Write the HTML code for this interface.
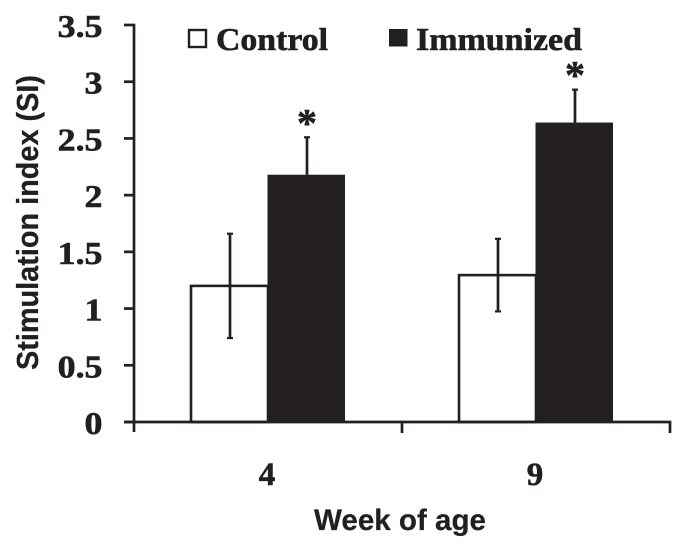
<!DOCTYPE html>
<html lang="en">
<head>
<meta charset="utf-8">
<title>Stimulation index by week of age</title>
<style>
html,body{margin:0;padding:0;background:#fff;width:692px;height:551px;overflow:hidden}
svg{display:block;filter:blur(0.35px)}
.serif{font-family:"Liberation Serif",serif;font-weight:bold;fill:#231f20;stroke:#231f20;stroke-width:0.6px}
.sans{font-family:"Liberation Sans",sans-serif;font-weight:bold;fill:#231f20;stroke:#231f20;stroke-width:0.25px}
</style>
</head>
<body>
<svg id="chart" width="692" height="551" viewBox="0 0 692 551" xmlns="http://www.w3.org/2000/svg">
  <text class="sans" x="400" y="530" font-size="29.5" text-anchor="middle" textLength="172" lengthAdjust="spacingAndGlyphs">Week of age</text>
  <text class="sans" transform="translate(38,222.5) rotate(-90)" font-size="30.5" text-anchor="middle" textLength="295" lengthAdjust="spacingAndGlyphs">Stimulation index (SI)</text>
  <rect x="189" y="30" width="17" height="17" fill="#fff" stroke="#231f20" stroke-width="2.4"/>
  <text class="serif" x="216" y="50" font-size="32" textLength="112" lengthAdjust="spacingAndGlyphs">Control</text>
  <rect x="389" y="29" width="18.5" height="17.5" fill="#231f20"/>
  <text class="serif" x="416" y="50" font-size="32" textLength="166" lengthAdjust="spacingAndGlyphs">Immunized</text>
</svg>
<script>
const categories = ['4', '9'];
const controlValues = [1.2, 1.295];
const immunizedValues = [2.18, 2.64];
const controlErrors = [0.46, 0.32];
const immunizedErrors = [0.33, 0.29];
const significant = ['*', '*'];
const yTicks = [0, 0.5, 1, 1.5, 2, 2.5, 3, 3.5];
const yTickLabels = ['0', '0.5', '1', '1.5', '2', '2.5', '3', '3.5'];

const svg = document.getElementById('chart');
const NS = 'http://www.w3.org/2000/svg';
const INK = '#231f20';
const plotLeft = 134, plotRight = 670, plotBottom = 422, plotTop = 25;
const yMax = 3.5, barWidth = 77, lineW = 2.7;
function yScale(v) { return plotBottom - (v / yMax) * (plotBottom - plotTop); }
function bandWidth() { return (plotRight - plotLeft) / categories.length; }
function bandCenter(i) { return plotLeft + bandWidth() * (i + 0.5); }
function make(tag, attrs) {
  const el = document.createElementNS(NS, tag);
  for (const k in attrs) el.setAttribute(k, attrs[k]);
  svg.appendChild(el);
  return el;
}
function line(x1, y1, x2, y2, w) {
  return make('line', { x1: x1, y1: y1, x2: x2, y2: y2, stroke: INK, 'stroke-width': w });
}
function errorBar(cx, value, err, lowerVisible, prefix) {
  const top = yScale(value + err);
  const bottom = lowerVisible ? yScale(value - err) : yScale(value);
  const stem = line(cx, top, cx, bottom, lineW);
  
  
  const capTop = line(cx - 3, top, cx + 3, top, 2.2);
  
  
  if (lowerVisible) {
    const capBottom = line(cx - 3, bottom, cx + 3, bottom, 2.2);
    
    
  }
}

categories.forEach(function (cat, i) {
  const c = bandCenter(i);
  const ctrlTop = yScale(controlValues[i]);
  const ctrl = make('rect', { x: c - barWidth, y: ctrlTop, width: barWidth, height: plotBottom - ctrlTop, fill: '#fff', stroke: INK, 'stroke-width': 2.6 });
  
  
  errorBar(c - barWidth / 2 + 0.5, controlValues[i], controlErrors[i], true, 'control-week-' + cat);

  const immTop = yScale(immunizedValues[i]);
  const imm = make('rect', { x: c - 0.5, y: immTop, width: barWidth + 0.5, height: plotBottom - immTop, fill: INK });
  
  
  errorBar(c + barWidth / 2 + 0.5, immunizedValues[i], immunizedErrors[i], false, 'immunized-week-' + cat);

  const star = make('text', { x: c + barWidth / 2 + 0.5, y: yScale(immunizedValues[i] + immunizedErrors[i]) - 1, 'font-size': 40, 'text-anchor': 'middle', class: 'serif' });
  star.textContent = significant[i];
  
  

  const label = make('text', { x: c - 1, y: 485, 'font-size': 33, 'text-anchor': 'middle', class: 'serif' });
  label.textContent = cat;
  
  
});

const yAxis = line(plotLeft, plotTop - 1.3, plotLeft, plotBottom + 10, lineW);


const xAxis = line(plotLeft - 10, plotBottom, plotRight + 1.3, plotBottom, lineW);



yTicks.forEach(function (v, i) {
  const y = yScale(v);
  const tick = line(plotLeft - 10, y, plotLeft, y, lineW);
  
  
  const label = make('text', { 'font-size': 31.5, 'text-anchor': 'end', class: 'serif', transform: 'translate(102.5,' + (y + 12) + ') scale(1.14,1)' });
  label.textContent = yTickLabels[i];
  
  
});

for (let i = 1; i <= categories.length; i++) {
  const x = plotLeft + bandWidth() * i;
  const tick = line(x, plotBottom, x, plotBottom + 11, lineW);
  
  
}
</script>
</body>
</html>
